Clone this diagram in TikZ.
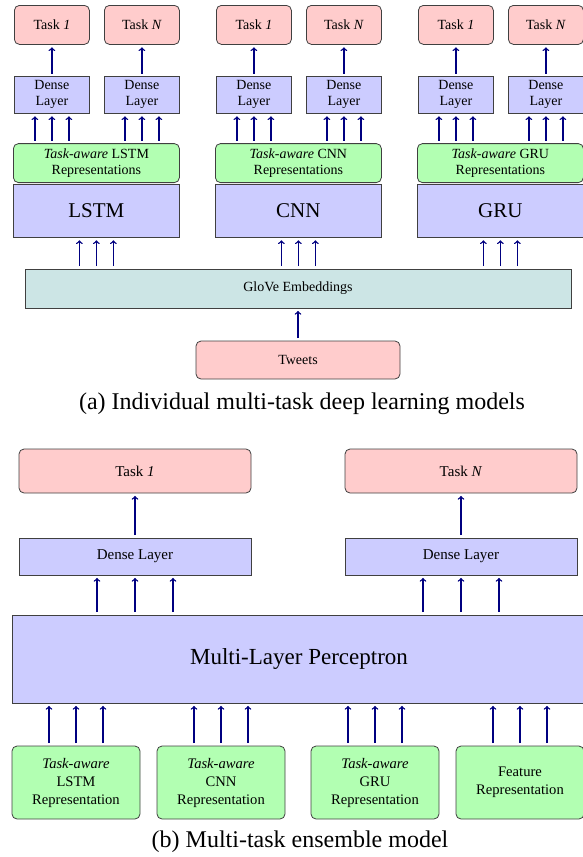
\documentclass[tikz,border=0pt]{standalone}
\usepackage{fontspec}
\setmainfont{Liberation Serif}
\usepackage{tikz}

\begin{document}
\begin{tikzpicture}[x=1pt,y=-1pt,
    box/.style={draw=black!75,line width=0.8pt,inner sep=0pt,align=center,font=\fontsize{14}{16}\selectfont},
    task/.style={box,fill=red!20,rounded corners=5pt},
    dense/.style={box,fill=blue!20},
    rep/.style={box,fill=green!30,rounded corners=5pt},
    model/.style={box,fill=blue!20,font=\fontsize{21}{24}\selectfont},
    glove/.style={box,fill=teal!20},
    caption/.style={font=\fontsize{24}{28}\selectfont},
    arr/.style={->,draw=blue!50!black,line width=1.4pt,shorten <=2.5pt,shorten >=2.5pt}]
    \useasboundingbox (0,0) rectangle (583,857);

    % (a) individual models
    \node [glove,minimum width=546pt,minimum height=39pt] (glove) at (298,288.5) {GloVe Embeddings};
    \node [task,minimum width=204pt,minimum height=38pt] (tweets) at (298,360) {Tweets};
    \draw [arr] (tweets) -- (glove);
    \foreach \n/\lbl/\x in {lstm/LSTM/13,cnn/CNN/215,gru/GRU/417}{
      \node [model,minimum width=166pt,minimum height=53pt,anchor=north west] (\n) at (\x,184) {\lbl};
      \node [rep,minimum width=166pt,minimum height=39pt,anchor=south west] (\n rep) at (\x,183)
        {\textit{Task-aware} \lbl\\Representations};
      \node [dense,minimum width=75pt,minimum height=37pt,anchor=north west] (\n d1) at (\x+1,76) {Dense\\Layer};
      \node [dense,minimum width=75pt,minimum height=37pt,anchor=north west] (\n dn) at (\x+91,76) {Dense\\Layer};
      \node [task,minimum width=75pt,minimum height=39pt,anchor=north west] (\n t1) at (\x+1,5) {Task \textit{1}};
      \node [task,minimum width=75pt,minimum height=39pt,anchor=north west] (\n tn) at (\x+91,5) {Task \textit{N}};
      \draw [arr] (\n d1) -- (\n t1);
      \draw [arr] (\n dn) -- (\n tn);
      \foreach \d in {-17,0,17}{
        \draw [arr] ([xshift=\d pt]\n.south |- glove.north) -- ([xshift=\d pt]\n.south);
        \draw [arr] ([xshift=\d pt]\n d1.south |- \n rep.north) -- ([xshift=\d pt]\n d1.south);
        \draw [arr] ([xshift=\d pt]\n dn.south |- \n rep.north) -- ([xshift=\d pt]\n dn.south);
      }
    }
    \node [caption] (capa) at (302,404) {(a) Individual multi-task deep learning models};

    % (b) ensemble model
    \node [model,minimum width=574pt,minimum height=88pt,font=\fontsize{23}{26}\selectfont] (mlp) at (299,659) {Multi-Layer Perceptron};
    \node [task,minimum width=232pt,minimum height=44pt,font=\fontsize{15}{17}\selectfont] (t1) at (135,471) {Task \textit{1}};
    \node [task,minimum width=232pt,minimum height=44pt,font=\fontsize{15}{17}\selectfont] (tn) at (461,471) {Task \textit{N}};
    \node [dense,minimum width=232pt,minimum height=37pt,font=\fontsize{15}{17}\selectfont] (d1) at (135,556.5) {Dense Layer};
    \node [dense,minimum width=232pt,minimum height=37pt,font=\fontsize{15}{17}\selectfont] (dn) at (461,556.5) {Dense Layer};
    \draw [arr] (d1) -- (t1);
    \draw [arr] (dn) -- (tn);
    \foreach \d in {-38,0,38}{
      \draw [arr] ([xshift=\d pt]d1.south |- mlp.north) -- ([xshift=\d pt]d1.south);
      \draw [arr] ([xshift=\d pt]dn.south |- mlp.north) -- ([xshift=\d pt]dn.south);
    }
    \foreach \n/\txt/\x in {lstmin/{\textit{Task-aware}\\LSTM\\Representation}/76,
                            cnnin/{\textit{Task-aware}\\CNN\\Representation}/221,
                            gruin/{\textit{Task-aware}\\GRU\\Representation}/375,
                            featin/{Feature\\Representation}/520}{
      \node [rep,minimum width=128pt,minimum height=73pt,font=\fontsize{14.6}{18}\selectfont] (\n) at (\x,782.5) {\txt};
      \foreach \d in {-27,0,27}
        \draw [arr] ([xshift=\d pt]\n.north) -- ([xshift=\d pt]\n.north |- mlp.south);
    }
    \node [caption] (capb) at (300,842) {(b) Multi-task ensemble model};
\end{tikzpicture}
\end{document}
